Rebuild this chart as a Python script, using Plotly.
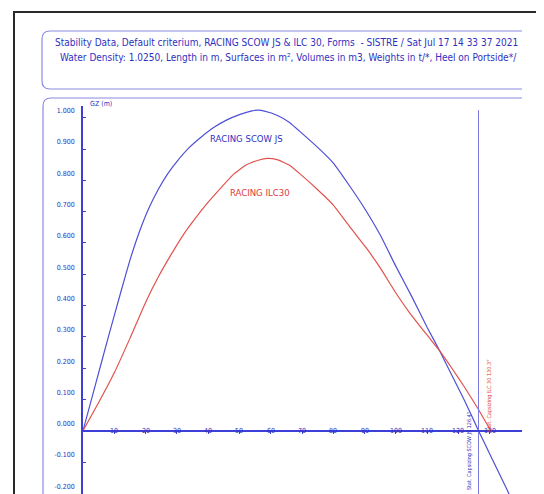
import plotly.graph_objects as go

# ---------------- data ----------------
heel_scow = [0, 4, 8, 12, 15, 18, 21, 24, 27, 30, 34, 38, 42, 46, 50, 54, 56, 58, 62, 66, 70, 75, 80, 85, 90, 95, 100, 105, 110, 114, 118, 122, 126.4, 131, 135.3, 137]
gz_scow = [0, 0.148, 0.296, 0.44, 0.545, 0.635, 0.71, 0.77, 0.82, 0.86, 0.905, 0.94, 0.97, 0.993, 1.01, 1.022, 1.024, 1.021, 1.008, 0.985, 0.95, 0.905, 0.855, 0.785, 0.71, 0.625, 0.525, 0.43, 0.33, 0.255, 0.175, 0.095, 0.0, -0.095, -0.184, -0.22]

heel_ilc = [0, 5, 10, 15, 20, 24, 28, 32, 36, 40, 44, 48, 52, 56, 59, 62, 66, 70, 75, 80, 85, 90.6, 95, 100, 104.5, 110, 114, 118, 122, 126, 130.3]
gz_ilc = [0, 0.09, 0.185, 0.295, 0.41, 0.49, 0.56, 0.625, 0.68, 0.73, 0.775, 0.818, 0.848, 0.864, 0.870, 0.866, 0.848, 0.815, 0.77, 0.721, 0.655, 0.583, 0.52, 0.44, 0.375, 0.305, 0.255, 0.198, 0.138, 0.074, 0.0]

x_ticks = [10, 20, 30, 40, 50, 60, 70, 80, 90, 100, 110, 120, 130]
y_ticks = [-0.2, -0.1, 0.0, 0.1, 0.2, 0.3, 0.4, 0.5, 0.6, 0.7, 0.8, 0.9, 1.0]
y_tick_labels = ["-0.200", "-0.100", "0.000", "0.100", "0.200", "0.300", "0.400",
                 "0.500", "0.600", "0.700", "0.800", "0.900", "1.000"]

capsize_scow = 126.4
capsize_ilc = 130.3
x_range = [0, 140.3]
y_range = [-0.2022, 1.0374]

title_line1 = "Stability Data, Default criterium, RACING SCOW JS & ILC 30, Forms  - SISTRE / Sat Jul 17 14 33 37 2021"
title_line2 = "Water Density: 1.0250, Length in m, Surfaces in m², Volumes in m3, Weights in t/*, Heel on Portside*/"

# ---------------- style ----------------
OFF = 8  # page body margin in the browser
W, H = 544 - OFF, 494 - OFF
L, R, T, B = 83 - OFF, 522 - OFF, 106 - OFF, 494 - OFF
BLUE_LINE = "#4f4fd6"
RED_LINE = "#e2524c"
AXIS = "#3e3ed8"
TXT_BLUE = "#3030c0"
TXT_RED = "#e03a3a"
BOX = "#8a8ae2"
FONT = "Liberation Sans Narrow, DejaVu Sans Condensed, Arial Narrow, sans-serif"


def px(xp):
    # target-image pixel -> paper fraction
    return (xp - OFF - L) / (R - L)


def py(yp):
    return (B - (yp - OFF)) / (B - T)


fig = go.Figure()

fig.add_trace(go.Scatter(x=heel_scow, y=gz_scow, mode="lines",
                         line=dict(color=BLUE_LINE, width=1.2, shape="spline", smoothing=0.4),
                         hoverinfo="skip", showlegend=False))
fig.add_trace(go.Scatter(x=heel_ilc, y=gz_ilc, mode="lines",
                         line=dict(color=RED_LINE, width=1.2, shape="spline", smoothing=0.4),
                         hoverinfo="skip", showlegend=False))
# capsize vertical line
fig.add_trace(go.Scatter(x=[capsize_scow, capsize_scow], y=[1.024, y_range[0] - 0.1], mode="lines",
                         line=dict(color="#7a7ae0", width=1), hoverinfo="skip", showlegend=False))

shapes = []
# outer page border
shapes.append(dict(type="path", xref="paper", yref="paper",
                   path=f"M {px(14)},{py(510)} L {px(14)},{py(12)} L {px(541)},{py(12)} L {px(541)},{py(510)}",
                   line=dict(color="#2a2a2a", width=2)))
# header box
shapes.append(dict(type="path", xref="paper", yref="paper",
                   path=(f"M {px(522)},{py(31)} L {px(50)},{py(31)} Q {px(42)},{py(31)} {px(42)},{py(39)} "
                         f"L {px(42)},{py(81)} Q {px(42)},{py(89)} {px(50)},{py(89)} L {px(522)},{py(89)}"),
                   line=dict(color=BOX, width=1.2)))
# plot box
shapes.append(dict(type="path", xref="paper", yref="paper",
                   path=(f"M {px(522)},{py(98)} L {px(51)},{py(98)} Q {px(43)},{py(98)} {px(43)},{py(106)} "
                         f"L {px(43)},{py(510)}"),
                   line=dict(color=BOX, width=1.2)))

annotations = []
annotations.append(dict(x=px(286), y=py(43), xref="paper", yref="paper", text=title_line1,
                        showarrow=False, font=dict(family=FONT, size=10, color=TXT_BLUE),
                        xanchor="center", yanchor="middle"))
annotations.append(dict(x=px(288), y=py(57), xref="paper", yref="paper", text=title_line2,
                        showarrow=False, font=dict(family=FONT, size=10, color=TXT_BLUE),
                        xanchor="center", yanchor="middle"))
annotations.append(dict(x=px(88), y=py(104), xref="paper", yref="paper", text="GZ (m)",
                        showarrow=False, font=dict(family=FONT, size=7, color=TXT_BLUE),
                        xanchor="left", yanchor="middle"))
for t in x_ticks:
    annotations.append(dict(x=t, y=0, xref="x", yref="y", text=str(t), showarrow=False,
                            font=dict(family=FONT, size=7, color=TXT_BLUE),
                            xanchor="center", yanchor="middle"))
annotations.append(dict(x=52.3, y=0.934, xref="x", yref="y", text="RACING SCOW JS", showarrow=False,
                        font=dict(family=FONT, size=9.5, color=TXT_BLUE)))
annotations.append(dict(x=56.5, y=0.762, xref="x", yref="y", text="RACING ILC30", showarrow=False,
                        font=dict(family=FONT, size=9.5, color=TXT_RED)))
annotations.append(dict(x=123.6, y=-0.066, xref="x", yref="y",
                        text=f"Stat. Capsizing SCOW JS {capsize_scow:.1f}°", showarrow=False,
                        textangle=-90, font=dict(family=FONT, size=5.5, color=TXT_BLUE)))
annotations.append(dict(x=130.0, y=0.111, xref="x", yref="y",
                        text=f"Stat. Capsizing ILC 30 {capsize_ilc:.1f}°", showarrow=False,
                        textangle=-90, font=dict(family=FONT, size=5.5, color=TXT_RED)))

y0_frac = (0 - y_range[0]) / (y_range[1] - y_range[0])

fig.update_layout(
    width=W, height=H,
    margin=dict(l=L, r=W - R, t=T, b=H - B, pad=0),
    paper_bgcolor="white", plot_bgcolor="white",
    showlegend=False,
    shapes=shapes,
    annotations=annotations,
    xaxis=dict(range=x_range, anchor="free", position=y0_frac, showline=True,
               linecolor=AXIS, linewidth=1.5, ticks="outside", ticklen=3, tickcolor=AXIS,
               tickvals=x_ticks, showticklabels=False, showgrid=False, zeroline=False, fixedrange=True),
    yaxis=dict(range=y_range, showline=True, linecolor=AXIS, linewidth=1.5,
               ticks="inside", ticklen=3, tickcolor=AXIS, tickvals=y_ticks, ticktext=y_tick_labels,
               tickfont=dict(family=FONT, size=7, color=TXT_BLUE), ticklabelshift=-7, ticklabelstandoff=5,
               showgrid=False, zeroline=False, fixedrange=True),
)

fig.write_html("out.html")
